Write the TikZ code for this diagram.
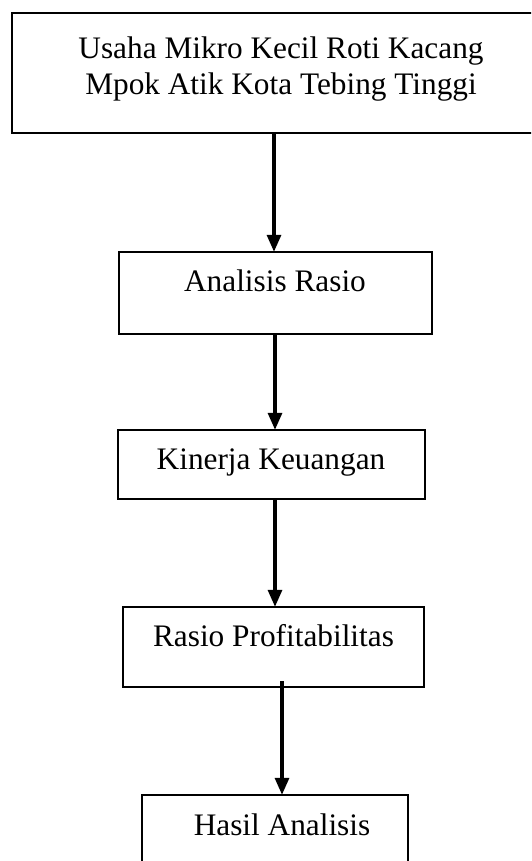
\documentclass[tikz,border=0pt]{standalone}
\usepackage{fontspec}
\setmainfont{Liberation Serif}
\usetikzlibrary{arrows.meta}
\begin{document}
\begin{tikzpicture}[x=1pt,y=-1pt,
  box/.style={draw=black, line width=2.4pt, rectangle, inner sep=0pt, fill=none},
  lbl/.style={font=\fontsize{31.3}{36}\selectfont, inner sep=0pt, align=center, anchor=base},
  arr/.style={line width=3.2pt, -{Triangle[length=17pt,width=14pt]}, shorten >=-1pt}]
\clip (0,0) rectangle (531,861);
\fill[white] (0,0) rectangle (531,861);
% boxes
\node[box, minimum width=540pt, minimum height=120pt] (b1) at (282,73) {};
\node[box, minimum width=313pt, minimum height=82pt] (b2) at (275.5,293) {};
\node[box, minimum width=307pt, minimum height=69pt] (b3) at (271.5,464.5) {};
\node[box, minimum width=301pt, minimum height=80pt] (b4) at (273.5,647) {};
\node[box, minimum width=266pt, minimum height=90pt] (b5) at (275,840) {};
% texts
\node[lbl] (t1a) at (281,59) {Usaha Mikro Kecil Roti Kacang};
\node[lbl] (t1b) at (281,95) {Mpok Atik Kota Tebing Tinggi};
\node[lbl] (t2) at (275,291) {Analisis Rasio};
\node[lbl] (t3) at (271,469) {Kinerja Keuangan};
\node[lbl] (t4) at (273.5,646) {Rasio Profitabilitas};
\node[lbl] (t5) at (282,835) {Hasil Analisis};
% arrow columns
\coordinate (c1) at (274,0);
\coordinate (c2) at (275,0);
\coordinate (c3) at (275,0);
\coordinate (c4) at (282,0);
\coordinate (s4) at (282,681);
\draw[arr] (c1 |- b1.south) -- (c1 |- b2.north);
\draw[arr] (c2 |- b2.south) -- (c2 |- b3.north);
\draw[arr] (c3 |- b3.south) -- (c3 |- b4.north);
\draw[arr] (s4) -- (c4 |- b5.north);
\end{tikzpicture}
\end{document}
